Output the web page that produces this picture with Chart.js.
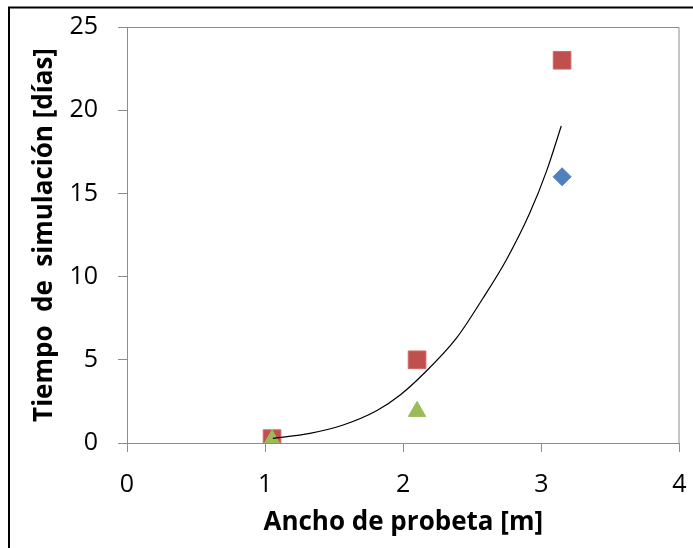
<!DOCTYPE html>
<html lang="es">
  <head>
    <meta charset="UTF-8" />
    <title>Tiempo de simulación</title>
    <style>
      body { margin: 0; background: #fff; }
    </style>
  </head>

  <body>
    <script src="https://cdn.jsdelivr.net/npm/chart.js"></script>
    <canvas id="grafico" width="693" height="548"></canvas>

    <script>
      // valores
      const anchoRojo = [1.05, 2.1, 3.15]
      const tiempoRojo = [0.26, 5.0, 23.0]
      const anchoVerde = [1.05, 2.1]
      const tiempoVerde = [0.18, 1.9]
      const anchoAzul = [3.15]
      const tiempoAzul = [16.0]
      // linea de tendencia
      const curvaX = [1.056, 1.324, 1.565, 1.81, 1.98, 2.14, 2.385, 2.577, 2.746, 2.915, 3.04, 3.144]
      const curvaY = [0.28, 0.58, 1.08, 1.95, 2.9, 4.1, 6.3, 8.7, 11.0, 13.8, 16.4, 19.05]
      const ticksX = [0, 1, 2, 3, 4]
      const ticksY = [0, 5, 10, 15, 20, 25]

      const puntos = (xs, ys) => xs.map((x, i) => ({ x: x, y: ys[i] }))

      const marco = {
        id: 'marco',
        afterDraw(chart) {
          const { ctx, chartArea } = chart
          ctx.save()
          ctx.strokeStyle = '#8c8c8c'
          ctx.lineWidth = 1
          ctx.beginPath()
          ctx.moveTo(chartArea.left, chartArea.top + 0.5)
          ctx.lineTo(chartArea.right - 0.5, chartArea.top + 0.5)
          ctx.lineTo(chartArea.right - 0.5, chartArea.bottom)
          ctx.stroke()
          ctx.strokeStyle = '#000'
          ctx.lineWidth = 2
          ctx.strokeRect(9, 7.5, 700, 560)
          ctx.restore()
        },
      }

      const gris = '#8c8c8c'
      const sinRelleno = (s) => {
        s.paddingLeft = 0
        s.paddingRight = 0
        s.paddingTop = 0
        s.paddingBottom = 0
      }

      new Chart(document.getElementById('grafico'), {
        type: 'scatter',
        data: {
          datasets: [
            {
              type: 'line',
              data: puntos(curvaX, curvaY),
              borderColor: '#000',
              borderWidth: 1.2,
              pointRadius: 0,
              cubicInterpolationMode: 'monotone',
              fill: false,
              order: 0,
            },
            {
              data: puntos(anchoRojo, tiempoRojo),
              pointStyle: 'rect',
              pointRadius: 12.5,
              backgroundColor: '#C0504D',
              borderColor: '#D06a67',
              borderWidth: 1,
              order: 3,
            },
            {
              data: puntos(anchoAzul, tiempoAzul),
              pointStyle: 'rectRot',
              pointRadius: 9,
              backgroundColor: '#4F81BD',
              borderColor: '#4F81BD',
              borderWidth: 1,
              order: 2,
            },
            {
              data: puntos(anchoVerde, tiempoVerde),
              pointStyle: 'triangle',
              pointRadius: 10,
              backgroundColor: '#9BBB59',
              borderColor: '#9BBB59',
              borderWidth: 1,
              order: 1,
            },
          ],
        },
        options: {
          responsive: false,
          animation: false,
          layout: { padding: { left: 0, top: 27, right: 13, bottom: 0 } },
          plugins: {
            legend: { display: false },
            tooltip: { enabled: false },
          },
          scales: {
            x: {
              type: 'linear',
              min: 0,
              max: 4,
              afterFit: (s) => { s.height = 105; sinRelleno(s) },
              afterBuildTicks: (s) => { s.ticks = ticksX.map((v) => ({ value: v })) },
              border: { color: gris, width: 1 },
              grid: { drawOnChartArea: false, drawTicks: true, tickLength: 9, color: gris },
              ticks: { color: '#000', padding: 18, font: { family: 'Open Sans', size: 25 } },
              title: {
                display: true,
                text: 'Ancho de probeta [m]',
                color: '#000',
                padding: { top: 0, bottom: 10 },
                font: { family: 'Open Sans', size: 26, weight: 'bold' },
              },
            },
            y: {
              type: 'linear',
              min: 0,
              max: 25,
              afterFit: (s) => { s.width = 127; sinRelleno(s) },
              afterBuildTicks: (s) => { s.ticks = ticksY.map((v) => ({ value: v })) },
              border: { color: gris, width: 1 },
              grid: { drawOnChartArea: false, drawTicks: true, tickLength: 9, color: gris },
              ticks: { color: '#000', padding: 20, font: { family: 'Open Sans', size: 25 } },
              title: {
                display: true,
                text: 'Tiempo  de  simulación [días]',
                color: '#000',
                padding: { top: 29, bottom: 0 },
                font: { family: 'Open Sans', size: 26, weight: 'bold' },
              },
            },
          },
        },
        plugins: [marco],
      })
    </script>
  </body>
</html>
